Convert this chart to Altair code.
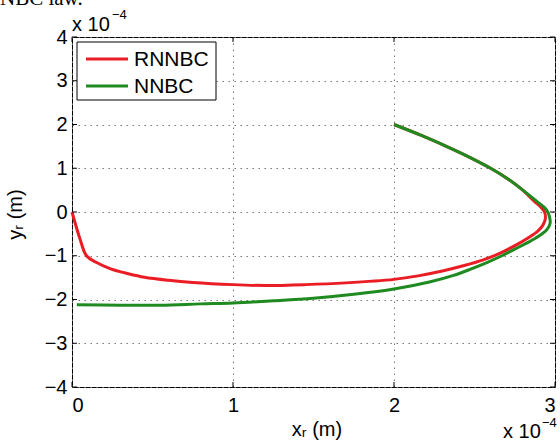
import altair as alt
import pandas as pd

# ---- data (x_r, y_r in units of 1e-4 m) ----
red_x = [0.0, 0.05, 0.09, 0.15, 0.24, 0.35, 0.45, 0.60, 0.75, 1.00, 1.20, 1.45, 1.70, 2.00, 2.15,
         2.30, 2.43, 2.55, 2.66, 2.76, 2.83, 2.89, 2.925, 2.94, 2.935, 2.91, 2.87, 2.80, 2.71, 2.60,
         2.47, 2.325, 2.17, 2.00]
red_y = [0.0, -0.62, -1.00, -1.15, -1.30, -1.41, -1.49, -1.56, -1.61, -1.66, -1.68, -1.66, -1.62, -1.54, -1.46,
         -1.35, -1.23, -1.10, -0.94, -0.75, -0.60, -0.45, -0.30, -0.15, 0.00, 0.12, 0.25, 0.50, 0.75, 1.00,
         1.25, 1.50, 1.75, 2.00]

green_x = [0.03, 0.30, 0.55, 0.80, 1.00, 1.25, 1.50, 1.75, 2.00, 2.22, 2.37, 2.48, 2.58, 2.67, 2.75,
           2.83, 2.90, 2.95, 2.97, 2.965, 2.955, 2.935, 2.885, 2.80, 2.71, 2.60, 2.47, 2.325, 2.17, 2.00]
green_y = [-2.12, -2.13, -2.13, -2.10, -2.08, -2.03, -1.97, -1.88, -1.76, -1.60, -1.45, -1.30, -1.15, -1.00, -0.85,
           -0.70, -0.55, -0.40, -0.25, -0.10, 0.00, 0.10, 0.25, 0.50, 0.75, 1.00, 1.25, 1.50, 1.75, 2.00]

series_names = ["RNNBC", "NNBC"]
series_colors = ["#ea1c24", "#1f8a1f"]
x_ticks = [0, 1, 2, 3]
y_ticks = [-4, -3, -2, -1, 0, 1, 2, 3, 4]

W, H = 483, 350
FONT = "Liberation Sans"
FS = 20

red_df = pd.DataFrame({"x": red_x, "y": red_y, "i": range(len(red_x)), "series": "RNNBC"})
green_df = pd.DataFrame({"x": green_x, "y": green_y, "i": range(len(green_x)), "series": "NNBC"})
xt_df = pd.DataFrame({"x": x_ticks})
yt_df = pd.DataFrame({"y": y_ticks})

x_axis = alt.Axis(values=x_ticks, title="xᵣ (m)", ticks=False, domain=False,
                  grid=True, gridDash=[1.5, 4.5], gridColor="#777", gridWidth=1,
                  labelFontSize=FS, labelFont=FONT, labelColor="black", labelPadding=8,
                  titleFont=FONT, titleFontSize=FS, titleFontWeight="normal", titleColor="black",
                  titleX=W / 2 + 3, titleY=42, titleBaseline="middle")
y_axis = alt.Axis(values=y_ticks, title="yᵣ (m)", ticks=False, domain=False,
                  grid=True, gridDash=[1.5, 4.5], gridColor="#777", gridWidth=1,
                  labelFontSize=FS, labelFont=FONT, labelColor="black", labelPadding=5,
                  labelExpr="replace(datum.label, '-', '\u2212')",
                  titleFont=FONT, titleFontSize=FS, titleFontWeight="normal", titleColor="black",
                  titleX=-57, titleY=H / 2 + 2, titleAngle=-90, titleBaseline="middle", titleAlign="center")

xs = alt.X("x:Q", scale=alt.Scale(domain=[0, 3], nice=False, zero=False), axis=x_axis)
ys = alt.Y("y:Q", scale=alt.Scale(domain=[-4, 4], nice=False, zero=False), axis=y_axis)

color = alt.Color("series:N", scale=alt.Scale(domain=series_names, range=series_colors), legend=None)

red_line = alt.Chart(red_df).mark_line(strokeWidth=3, interpolate="catmull-rom").encode(
    x=xs, y=ys, order="i:Q", color=color)
green_line = alt.Chart(green_df).mark_line(strokeWidth=3, interpolate="catmull-rom").encode(
    x=xs, y=ys, order="i:Q", color=color)

# inward tick marks (MATLAB style)
tick_bottom = alt.Chart(xt_df).mark_rule(color="black", strokeWidth=1).encode(
    x=xs, y=alt.value(H), y2=alt.value(H - 5))
tick_top = alt.Chart(xt_df).mark_rule(color="black", strokeWidth=1).encode(
    x=xs, y=alt.value(0), y2=alt.value(5))
tick_left = alt.Chart(yt_df).mark_rule(color="black", strokeWidth=1).encode(
    y=ys, x=alt.value(0), x2=alt.value(5))
tick_right = alt.Chart(yt_df).mark_rule(color="black", strokeWidth=1).encode(
    y=ys, x=alt.value(W), x2=alt.value(W - 5))

# legend (MATLAB style box)
legend_box = alt.Chart(pd.DataFrame({"a": [0]})).mark_rect(
    fill="white", stroke="black", strokeWidth=1).encode(
    x=alt.value(5), x2=alt.value(144), y=alt.value(5), y2=alt.value(63))
legend_items = []
for k, (name, col) in enumerate(zip(series_names, series_colors)):
    yy = 22 + 27 * k
    legend_items.append(
        alt.Chart(pd.DataFrame({"s": [name]})).mark_rule(color=col, strokeWidth=3).encode(
            x=alt.value(14), x2=alt.value(56), y=alt.value(yy)))
    legend_items.append(
        alt.Chart(pd.DataFrame({"s": [name]})).mark_text(
            font=FONT, fontSize=21, align="left", baseline="middle", color="black").encode(
            text="s:N", x=alt.value(62), y=alt.value(yy + 1)))


def txt(s, x, y, size=FS, font=FONT, align="left", baseline="alphabetic"):
    return alt.Chart(pd.DataFrame({"t": [s]})).mark_text(
        font=font, fontSize=size, align=align, baseline=baseline, color="black").encode(
        text="t:N", x=alt.value(x), y=alt.value(y))


annotations = [
    txt("NBC law.", -72, -32, size=21, font="Liberation Serif"),
    txt("x 10", 0, -6),
    txt("\u22124", 40, -18, size=13),
    txt("x 10", 431, 401),
    txt("\u22124", 470, 390, size=13),
]

chart = alt.layer(red_line, green_line, tick_bottom, tick_top, tick_left, tick_right,
                  legend_box, *legend_items, *annotations).properties(
    width=W, height=H,
    padding={"left": 72, "top": 37, "right": 5, "bottom": 56},
    autosize=alt.AutoSizeParams(type="none"),
    background="white",
).configure_view(stroke="black", strokeWidth=1)

chart.save("out.html", embed_options={"renderer": "svg", "actions": False})
